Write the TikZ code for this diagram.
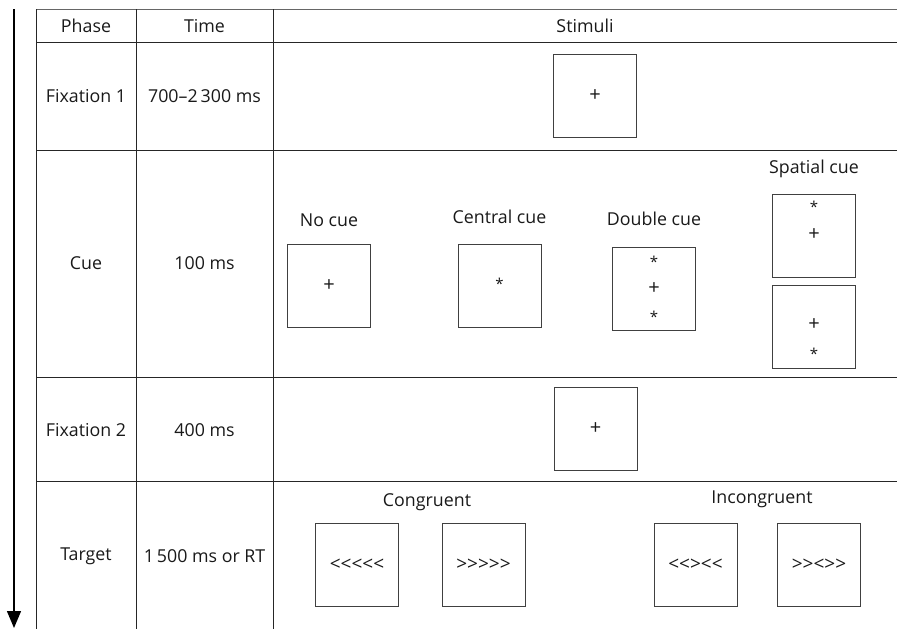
\documentclass[tikz,border=0pt]{standalone}
\usepackage{fontspec}
\setmainfont{Open Sans}
\newfontfamily\plainglyphs{Open Sans}[Ligatures=TeXOff]
\usetikzlibrary{arrows.meta}
\begin{document}
\begin{tikzpicture}[x=1pt,y=-1pt,
  grid/.style={line width=1pt,draw=black!85},
  stim/.style={draw=black!75,line width=0.9pt,minimum width=83pt,minimum height=83pt,inner sep=0pt},
  lbl/.style={font=\fontsize{17.8}{20}\selectfont,inner sep=0pt,text=black!90},
  plus/.style={font=\plainglyphs\fontsize{20}{22}\selectfont,inner sep=0pt,text=black!90},
  star/.style={font=\plainglyphs\fontsize{15}{17}\selectfont,inner sep=0pt,text=black!90},
  chev/.style={font=\plainglyphs\fontsize{19}{21}\selectfont,inner sep=0pt,text=black!90}]
\useasboundingbox (0,0) rectangle (897,629);
% table rules
\draw[line width=1pt,draw=black!60] (36,9) -- (897,9);
\foreach \yy in {42,150,377,481} \draw[grid] (36,\yy) -- (897,\yy);
\foreach \xx in {36,136,273} \draw[grid] (\xx,9) -- (\xx,629);
% time arrow
\coordinate (tstart) at (14,9);
\coordinate (tend) at (14,628);
\draw[line width=1.4pt,-{Triangle[length=17pt,width=14pt]}] (tstart) -- (tend);
% header
\node[lbl] (hphase) at (86,26) {Phase};
\node[lbl] (htime) at (204.5,26) {Time};
\node[lbl] (hstim) at (585,26) {Stimuli};
% phase / time column
\node[lbl] (p1) at (86,96) {Fixation 1};
\node[lbl] (t1) at (204.5,96) {700–2\,300 ms};
\node[lbl] (p2) at (86,263) {Cue};
\node[lbl] (t2) at (204.5,263) {100 ms};
\node[lbl] (p3) at (86,430) {Fixation 2};
\node[lbl] (t3) at (204.5,430) {400 ms};
\node[lbl] (p4) at (86,556) {Target};
\node[lbl] (t4) at (204.5,556) {1\,500 ms or RT};
% fixation 1
\node[stim] (fixa) at (595,96) {};
\node[plus] (fixaplus) at (fixa) {+};
% cue displays
\node[lbl] (lnocue) at (329,220) {No cue};
\node[stim] (nocue) at (329,285.5) {};
\node[plus] at (nocue) {+};
\node[lbl] (lcentral) at (499.5,217) {Central cue};
\node[stim] (central) at (499.5,285.5) {};
\node[star] at (499.5,284) {*};
\node[lbl] (ldouble) at (654,219) {Double cue};
\node[stim] (double) at (654,288.5) {};
\node[star] at (654,262) {*};
\node[plus] at (654,288.5) {+};
\node[star] at (654,317) {*};
\node[lbl] (lspatial) at (814,169) {Spatial cue};
\node[stim] (spatialup) at (814,235.5) {};
\node[star] at (814,207) {*};
\node[plus] at (814,235) {+};
\node[stim] (spatialdn) at (814,327) {};
\node[plus] at (814,325) {+};
\node[star] at (814,354) {*};
% fixation 2
\node[stim] (fixb) at (595.5,428.5) {};
\node[plus] at (fixb) {+};
% targets
\node[lbl] (lcong) at (427,502) {Congruent};
\node[stim] (congl) at (357,564.5) {};
\node[chev] at (congl) {<<<<<};
\node[stim] (congr) at (483.5,564.5) {};
\node[chev] at (congr) {>>>>>};
\node[lbl] (lincong) at (762,499) {Incongruent};
\node[stim] (incongl) at (695.5,564.5) {};
\node[chev] at (incongl) {<<><<};
\node[stim] (incongr) at (819,564.5) {};
\node[chev] at (incongr) {>><>>};
\end{tikzpicture}
\end{document}
